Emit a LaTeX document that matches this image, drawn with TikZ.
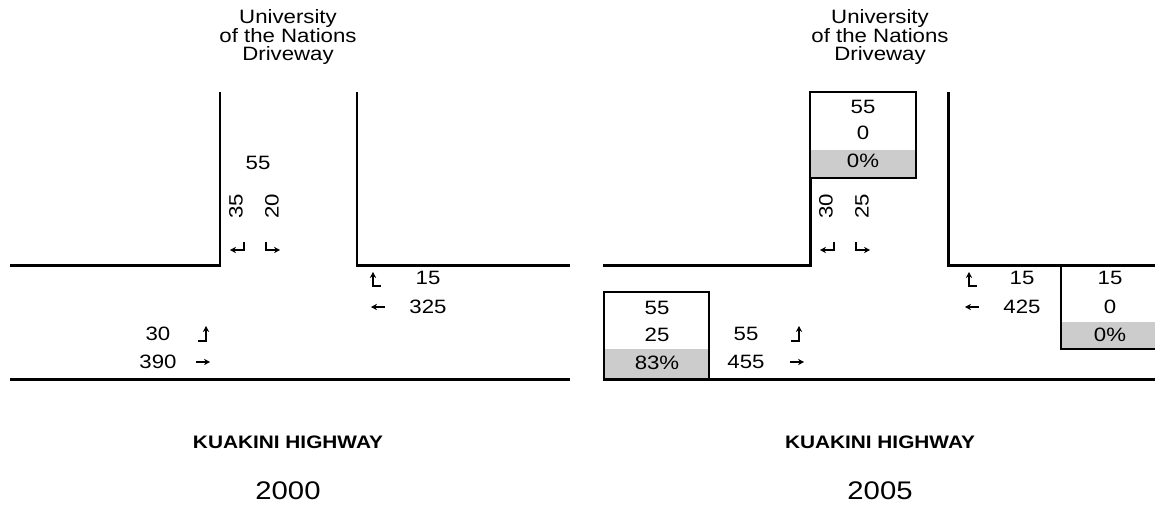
\documentclass[tikz,border=0pt]{standalone}
\usepackage{fontspec}
\setmainfont[FakeStretch=1.15]{Liberation Sans}
\usetikzlibrary{arrows.meta}

\tikzset{
  road/.style={line width=1.7pt},
  cbox/.style={line width=1.1pt},
  band/.style={fill=black!20},
  vol/.style={inner sep=0pt,font=\fontsize{11}{12}\selectfont},
  street/.style={inner sep=0pt,align=center,font=\fontsize{11}{10.8}\selectfont},
  hwy/.style={inner sep=0pt,font=\bfseries\fontsize{10.3}{12}\selectfont},
  yr/.style={inner sep=0pt,font=\fontsize{14.5}{16}\selectfont},
  mv/.style={line width=0.8pt,-{Stealth[length=3.4pt,width=3.6pt]}},
  % small turn arrows, drawn in pixel units
  pics/lturn/.style={code={\draw[mv] (6,-5) -- (6,3) -- (-8,3);}},
  pics/rturn/.style={code={\draw[mv] (-6,-5) -- (-6,3) -- (8,3);}},
  pics/rup/.style={code={\draw[mv] (5,6) -- (-3,6) -- (-3,-8);}},
  pics/lup/.style={code={\draw[mv] (-5,7) -- (3,7) -- (3,-8);}},
  pics/wbd/.style={code={\draw[mv] (7,0) -- (-7,0);}},
  pics/ebd/.style={code={\draw[mv] (-7,0) -- (7,0);}}
}

\begin{document}
\begin{tikzpicture}[x=0.02cm,y=-0.02cm]
\useasboundingbox (0,0) rectangle (1155,508);

% ---- 2000
\draw[road] (10,265) -- (220,265) -- (220,92);
\draw[road] (357,92) -- (357,265) -- (570,265);
\draw[road] (10,379) -- (570,379);
\node[street] (drv00) at (288,37) {University\\of the Nations\\Driveway};
\node[vol] (tot00) at (258,163) {55};
\node[vol,rotate=90] (sl00) at (236,206) {35};
\node[vol,rotate=90] (sr00) at (272,206) {20};
\pic at (238,247) {lturn};
\pic at (272,247) {rturn};
\pic at (376,280) {rup};
\node[vol] (wl00) at (428,278) {15};
\pic at (378,307) {wbd};
\node[vol] (wt00) at (428,307) {325};
\node[vol] (el00) at (158,334) {30};
\pic at (203,334) {lup};
\node[vol] (et00) at (158,362) {390};
\pic at (203,362) {ebd};
\node[hwy] (hwy00) at (288,442) {KUAKINI HIGHWAY};
\node[yr] (yr00) at (288,491) {2000};

% ---- 2005
\draw[road] (603,265) -- (810,265) -- (810,178);
\draw[road] (948,92) -- (948,265) -- (1155,265);
\draw[road] (603,379) -- (1155,379);
\node[street] (drv05) at (880,37) {University\\of the Nations\\Driveway};
% driveway capacity box
\fill[band] (810,150) rectangle (916,178);
\draw[cbox] (810,92) rectangle (916,178);
\node[vol] (dv05) at (863,107) {55};
\node[vol] (dc05) at (863,133) {0};
\node[vol] (dp05) at (863,161) {0\%};
\node[vol,rotate=90] (sl05) at (826,206) {30};
\node[vol,rotate=90] (sr05) at (862,206) {25};
\pic at (828,247) {lturn};
\pic at (862,247) {rturn};
\pic at (972,280) {rup};
\node[vol] (wl05) at (1022,278) {15};
\pic at (972,307) {wbd};
\node[vol] (wt05) at (1022,307) {425};
% westbound left capacity box
\fill[band] (1061,322) rectangle (1160,349);
\draw[cbox] (1061,265) -- (1061,349) -- (1160,349);
\node[vol] (wv05) at (1110,278) {15};
\node[vol] (wc05) at (1110,307) {0};
\node[vol] (wp05) at (1110,335) {0\%};
% eastbound left capacity box
\fill[band] (604,349) rectangle (709,379);
\draw[cbox] (604,292) rectangle (709,379);
\node[vol] (ev05) at (657,308) {55};
\node[vol] (ec05) at (657,335) {25};
\node[vol] (ep05) at (657,363) {83\%};
\node[vol] (el05) at (746,334) {55};
\pic at (796,334) {lup};
\node[vol] (et05) at (746,362) {455};
\pic at (797,362) {ebd};
\node[hwy] (hwy05) at (880,442) {KUAKINI HIGHWAY};
\node[yr] (yr05) at (880,491) {2005};
\end{tikzpicture}
\end{document}
